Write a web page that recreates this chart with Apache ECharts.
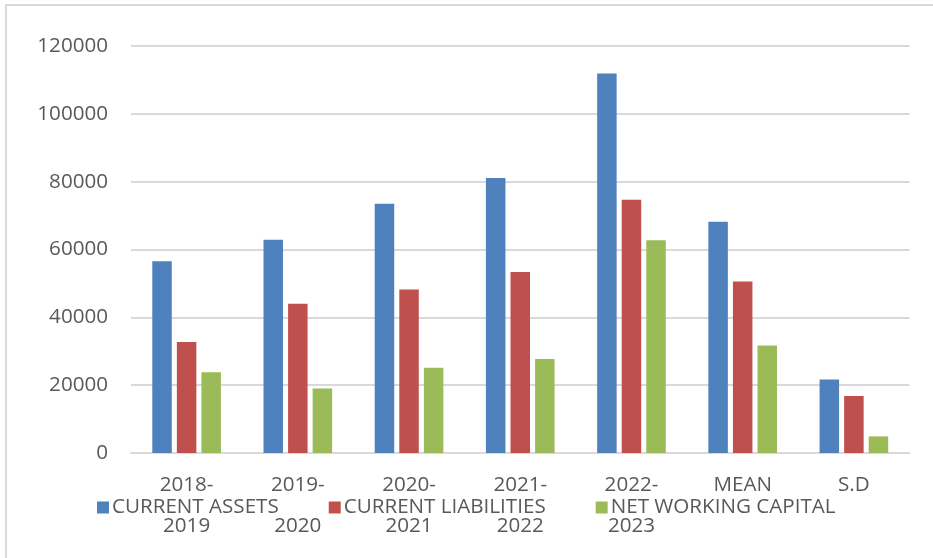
<!DOCTYPE html>
<html>
<head>
<meta charset="utf-8">
<script src="https://cdn.jsdelivr.net/npm/echarts@6/dist/echarts.min.js"></script>
<style>
html,body{margin:0;padding:0;background:#fff;}
#chart{width:933px;height:558px;}
</style>
</head>
<body>
<div id="chart"></div>
<script>
const categories = ['2018-\n2019', '2019-\n2020', '2020-\n2021', '2021-\n2022', '2022-\n2023', 'MEAN', 'S.D'];
const seriesNames = ['CURRENT ASSETS', 'CURRENT LIABILITIES', 'NET WORKING CAPITAL'];
const currentAssets = [56500, 62900, 73500, 81100, 111900, 68200, 21700];
const currentLiabilities = [32700, 44000, 48200, 53400, 74700, 50600, 16800];
const netWorkingCapital = [23800, 19000, 25100, 27700, 62700, 31700, 4900];
const yTicks = { min: 0, max: 120000, interval: 20000 };
const colors = ['#4F81BD', '#C0504D', '#9BBB59'];

const chart = echarts.init(document.getElementById('chart'), null, { renderer: 'canvas' });
const font = 'Open Sans';
const values = [currentAssets, currentLiabilities, netWorkingCapital];
chart.setOption({
  animation: false,
  backgroundColor: '#ffffff',
  color: colors,
  graphic: [{
    type: 'rect',
    shape: { x: 6, y: 5, width: 1200, height: 1000 },
    style: { fill: 'none', stroke: '#D9D9D9', lineWidth: 2 },
    silent: true
  }],
  grid: { left: 131, right: 23.5, top: 46, bottom: 105, containLabel: false },
  legend: {
    data: seriesNames,
    left: 92,
    top: 492,
    itemWidth: 12,
    itemHeight: 12,
    itemGap: 50,
    icon: 'rect',
    textStyle: { fontFamily: font, fontSize: 20.6, color: '#595959', padding: [0, 0, 0, -2] }
  },
  xAxis: {
    type: 'category',
    data: categories,
    axisLine: { show: true, lineStyle: { color: '#D9D9D9', width: 2 } },
    axisTick: { show: false },
    axisLabel: {
      fontFamily: font, fontSize: 20.6, color: '#595959',
      lineHeight: 41, margin: 12, interval: 0
    }
  },
  yAxis: {
    type: 'value',
    min: yTicks.min, max: yTicks.max, interval: yTicks.interval,
    axisLine: { show: false },
    axisTick: { show: false },
    splitLine: { lineStyle: { color: '#D9D9D9', width: 2 } },
    axisLabel: { fontFamily: font, fontSize: 20.6, color: '#595959', margin: 23, formatter: v => String(v) }
  },
  series: seriesNames.map((name, i) => ({
    name: name,
    type: 'bar',
    data: values[i],
    barWidth: 19.5,
    barGap: '26%',
    itemStyle: { color: colors[i] }
  }))
});
</script>
</body>
</html>
